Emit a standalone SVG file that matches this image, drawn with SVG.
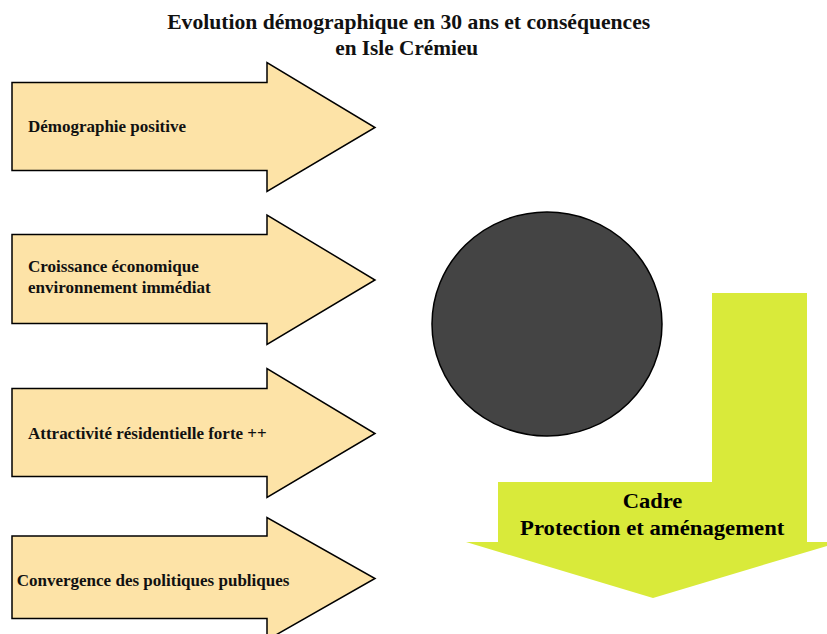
<svg xmlns="http://www.w3.org/2000/svg" width="827" height="634" viewBox="0 0 827 634">
<style>
.arrow{fill:#fde3a7;stroke:#000;stroke-width:1.5;stroke-linejoin:miter}
.lbl{font-family:"Liberation Serif","Times New Roman",serif;font-weight:bold;font-size:16px;fill:#111}
.title{font-family:"Liberation Serif","Times New Roman",serif;font-weight:bold;font-size:21.5px;fill:#111;text-anchor:middle}
.big{font-family:"Liberation Serif","Times New Roman",serif;font-weight:bold;font-size:22px;fill:#000;text-anchor:middle}
</style>
<rect width="827" height="634" fill="#fff"/>
<g id="title">
<text class="title" x="408.7" y="29" textLength="483" lengthAdjust="spacingAndGlyphs">Evolution démographique en 30 ans et conséquences</text>
<text class="title" x="406.7" y="55" textLength="143" lengthAdjust="spacingAndGlyphs">en Isle Crémieu</text>
</g>
<g id="n1">
<path class="arrow" d="M12,82.5 H267 V62.5 L375,127.5 L267,191.5 V170.5 H12 Z"/>
<text class="lbl" x="28" y="132" textLength="158" lengthAdjust="spacingAndGlyphs">Démographie positive</text>
</g>
<g id="n2">
<path class="arrow" d="M12,234.5 H267 V215 L375,280 L267,344.5 V323.5 H12 Z"/>
<text class="lbl" x="28" y="272" textLength="170.7" lengthAdjust="spacingAndGlyphs">Croissance économique</text>
<text class="lbl" x="28" y="292.5" textLength="182.7" lengthAdjust="spacingAndGlyphs">environnement immédiat</text>
</g>
<g id="n3">
<path class="arrow" d="M12,388.5 H267 V368.5 L375,433.5 L267,497.5 V476.5 H12 Z"/>
<text class="lbl" x="28" y="438.5" textLength="238.7" lengthAdjust="spacingAndGlyphs">Attractivité résidentielle forte ++</text>
</g>
<g id="n4">
<path class="arrow" d="M12,536 H267 V517.5 L375,578.5 L267,640 V618.5 H12 Z"/>
<text class="lbl" x="16.7" y="586" textLength="272.7" lengthAdjust="spacingAndGlyphs">Convergence des politiques publiques</text>
</g>
<g id="circle">
<ellipse cx="547" cy="324" rx="115" ry="112" fill="#444" stroke="#000" stroke-width="1.5"/>
</g>
<g id="cadre">
<path d="M712,293 H807 V542 H840 L653,598 L466,542 H498 V482 H712 Z" fill="#d9ea3a"/>
<text class="big" x="652.5" y="508" textLength="59.7" lengthAdjust="spacingAndGlyphs">Cadre</text>
<text class="big" x="652.2" y="535" textLength="264.3" lengthAdjust="spacingAndGlyphs">Protection et aménagement</text>
</g>
<g id="connectors"></g>
</svg>
